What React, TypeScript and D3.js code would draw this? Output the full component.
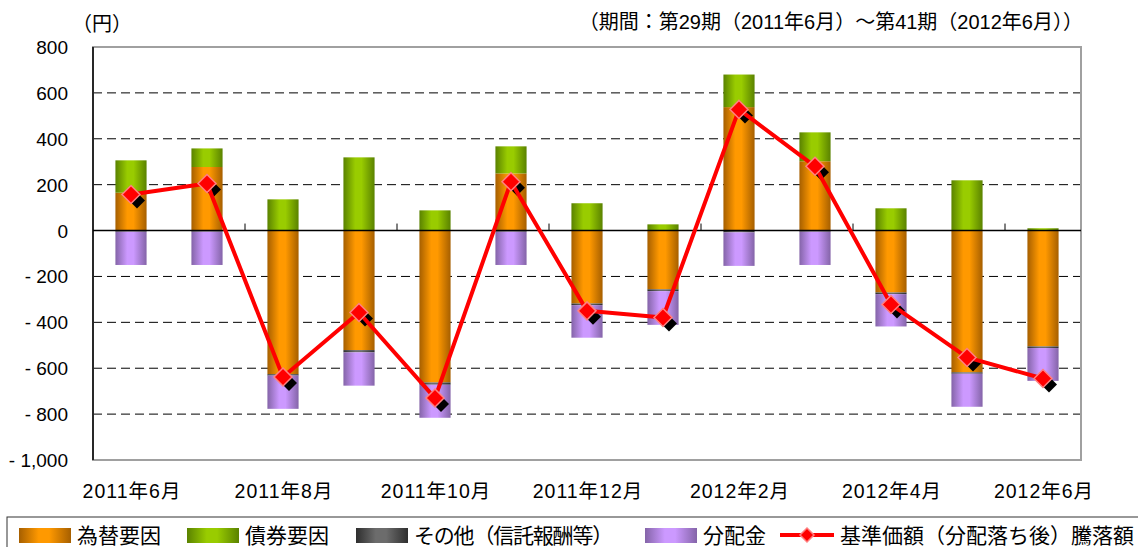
import React from "react";
import * as d3 from "d3";

// 期間: 第29期(2011年6月) ~ 第41期(2012年6月)
const months = [
  "2011年6月", "2011年7月", "2011年8月", "2011年9月", "2011年10月", "2011年11月",
  "2011年12月", "2012年1月", "2012年2月", "2012年3月", "2012年4月", "2012年5月", "2012年6月",
];
const fxFactor = [165, 277, -626, -521, -662, 249, -318, -256, 538, 302, -270, -618, -505];
const bondFactor = [141, 81, 136, 319, 88, 118, 119, 27, 142, 126, 97, 219, 10];
const otherFactor = [-5, -5, -6, -10, -10, -5, -7, -8, -8, -5, -7, -6, -7];
const dividend = [-145, -145, -145, -145, -144, -145, -142, -147, -146, -145, -141, -144, -143];
const navChange = [157, 205, -638, -357, -730, 213, -350, -379, 528, 280, -322, -553, -645];
const yTicks = [800, 600, 400, 200, 0, -200, -400, -600, -800, -1000];

const seriesNames = ["為替要因", "債券要因", "その他（信託報酬等）", "分配金"];
const lineName = "基準価額（分配落ち後）騰落額";
const seriesColors = [
  ["#a65f00", "#ff9900"],
  ["#5a8200", "#99cc00"],
  ["#2e2e2e", "#6c6c6c"],
  ["#8464a8", "#cc99ff"],
];

const W = 1138, H = 547;
const left = 93, right = 1081, top = 47, bottom = 460;
const font = "'Liberation Sans', Arial, 'Noto Sans CJK JP', sans-serif";

export default function App() {
  const keys = ["fx", "bond", "other", "div"];
  const rows = months.map((m, i) => ({
    month: m,
    fx: fxFactor[i],
    bond: bondFactor[i],
    other: otherFactor[i],
    div: dividend[i],
  }));
  const stacked = d3.stack<any>().keys(keys).offset(d3.stackOffsetDiverging)(rows);

  const x = d3.scaleBand().domain(months).range([left, right]).paddingInner(0.59).paddingOuter(0.295);
  const y = d3.scaleLinear().domain([-1000, 800]).range([bottom, top]);
  const cx = (m: string) => (x(m) as number) + x.bandwidth() / 2;

  const line = d3
    .line<number>()
    .x((d, i) => cx(months[i]))
    .y((d) => y(d));

  const diamond = (r: number) => `M0,${-r}L${r},0L0,${r}L${-r},0Z`;
  const step = x.step();

  const legendX = [19, 187, 356, 645];

  return (
    <svg width={W} height={H} style={{ position: "absolute", left: 0, top: 0, background: "#fff" }} fontFamily={font}>
      <defs>
        {seriesColors.map((c, i) => (
          <linearGradient key={i} id={"grad" + i} x1="0" x2="1" y1="0" y2="0">
            <stop offset="0" stopColor={c[0]} />
            <stop offset="0.38" stopColor={c[1]} />
            <stop offset="0.58" stopColor={c[1]} />
            <stop offset="1" stopColor={c[0]} />
          </linearGradient>
        ))}
      </defs>

      {/* header */}
      <text x={72} y={31} fontSize={20} fill="#000">（円）</text>
      <text x={1083} y={29} fontSize={20} fill="#000" textAnchor="end">
        （期間：第29期（2011年6月）～第41期（2012年6月））
      </text>

      {/* grid */}
      {yTicks.filter((t) => t !== 0 && t !== 800 && t !== -1000).map((t) => (
        <line key={t} x1={left} x2={right} y1={y(t)} y2={y(t)} stroke="#000" strokeWidth={1} strokeDasharray="9,5" />
      ))}
      <rect x={left} y={top} width={right - left} height={bottom - top} fill="none" stroke="#a0a0a0" strokeWidth={2} />

      {/* bars */}
      {stacked.map((s, si) => (
        <g key={s.key} fill={`url(#grad${si})`}>
          {s.map((d, i) => {
            const y0 = y(d[0]), y1 = y(d[1]);
            return (
              <rect key={i} x={x(months[i])} width={x.bandwidth()} y={Math.min(y0, y1)} height={Math.abs(y1 - y0)} />
            );
          })}
        </g>
      ))}

      {/* axes */}
      <line x1={left} x2={right} y1={y(0)} y2={y(0)} stroke="#000" strokeWidth={1.5} />
      <line x1={left} x2={left} y1={top} y2={bottom} stroke="#000" strokeWidth={1.5} />
      {months.map((m, i) =>
        i > 0 && i % 2 === 0 ? (
          <line key={m} x1={left + step * i} x2={left + step * i} y1={y(0)} y2={y(0) - 7} stroke="#000" strokeWidth={1} />
        ) : null
      )}
      {yTicks.map((t) => (
        <text key={t} x={68} y={y(t) + 7} fontSize={19} textAnchor="end" fill="#000">
          {d3.format(",")(t).replace("-", "- ").replace("−", "- ")}
        </text>
      ))}
      {months.map((m, i) =>
        i % 2 === 0 ? (
          <text key={m} x={cx(m) + 1} y={498} fontSize={19.5} letterSpacing={1} textAnchor="middle" fill="#000">{m}</text>
        ) : null
      )}

      {/* line */}
      {navChange.map((v, i) => (
        <path key={"s" + i} d={diamond(8)} transform={`translate(${cx(months[i]) + 6},${y(v) + 6})`} fill="#000" />
      ))}
      <path d={line(navChange) as string} fill="none" stroke="#ff0000" strokeWidth={4} strokeLinejoin="round" />
      {navChange.map((v, i) => (
        <path key={"m" + i} d={diamond(9)} transform={`translate(${cx(months[i])},${y(v)})`} fill="#ff0000" stroke="#ff8080" strokeWidth={1.5} />
      ))}

      {/* legend */}
      <rect x={7} y={517} width={1140} height={40} fill="none" stroke="#333" strokeWidth={1} />
      {seriesNames.map((n, i) => (
        <g key={n}>
          <rect x={legendX[i]} y={528} width={52} height={15} fill={`url(#grad${i})`} />
          <text x={legendX[i] + 58} y={543} fontSize={21} letterSpacing={i === 2 ? -1.2 : 0} fill="#000">{n}</text>
        </g>
      ))}
      <g>
        <line x1={780} x2={834} y1={535} y2={535} stroke="#ff0000" strokeWidth={4} />
        <path d={diamond(7)} transform="translate(807,535)" fill="#ff0000" stroke="#ff8080" strokeWidth={1.5} />
        <text x={840} y={543} fontSize={21} fill="#000">{lineName}</text>
      </g>
    </svg>
  );
}
